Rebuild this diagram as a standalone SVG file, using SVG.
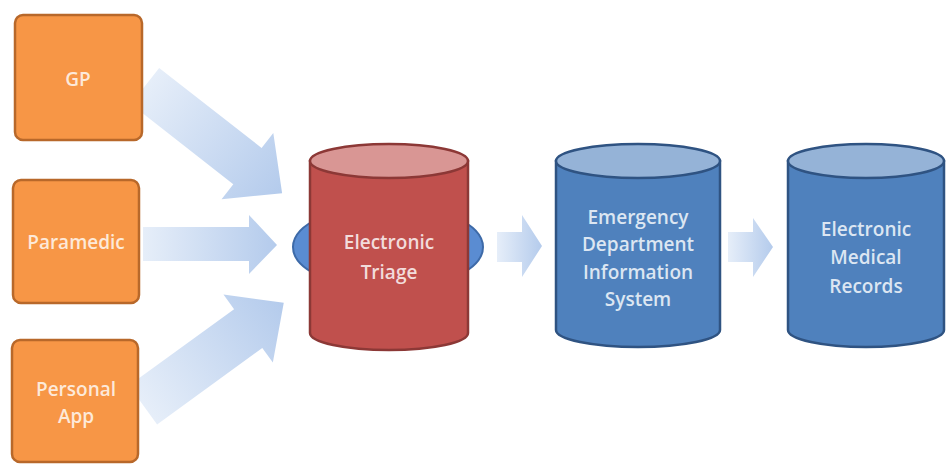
<svg xmlns="http://www.w3.org/2000/svg" width="946" height="464" viewBox="0 0 946 464">
<defs>
<linearGradient id="ga" x1="0" y1="0" x2="1" y2="0">
<stop offset="0" stop-color="#e6eef9"/>
<stop offset="1" stop-color="#b4cbec"/>
</linearGradient>
<style>
.box{fill:#F79646;stroke:#B8682A;stroke-width:2.5}
.lbl{font-family:"Open Sans","Noto Sans",sans-serif;font-size:19px;font-weight:600;text-anchor:middle}
.ot{fill:#FDE9D9}
.rt{fill:#F2DCDB}
.bt{fill:#DCE6F2}
.arr{fill:url(#ga)}
</style>
</defs>
<rect width="946" height="464" fill="#ffffff"/>
<g id="connectors">
<g transform="translate(145,86) rotate(38)"><polygon class="arr" points="0,-23 130,-23 130,-42 174,0 130,42 130,23 0,23"/></g>
<polygon class="arr" points="143,227 249,227 249,215 277,245 249,274 249,261 143,261"/>
<g transform="translate(143,405) rotate(-36)"><polygon class="arr" points="0,-24 130,-24 130,-42 174,0 130,42 130,24 0,24"/></g>
<polygon class="arr" points="497,232 522,232 522,215 542,246 522,277 522,262 497,262"/>
<polygon class="arr" points="728,232 753,232 753,218 773,247 753,277 753,262 728,262"/>
</g>
<g id="gp"><rect class="box" x="15" y="15" width="127" height="125" rx="8"/><text class="lbl ot" x="78" y="86">GP</text></g>
<g id="paramedic"><rect class="box" x="13" y="180" width="126" height="123" rx="8"/><text class="lbl ot" x="76" y="249">Paramedic</text></g>
<g id="personal-app"><rect class="box" x="12" y="340" width="126" height="122" rx="8"/><text class="lbl ot" x="76" y="396">Personal</text><text class="lbl ot" x="76" y="423">App</text></g>
<g id="electronic-triage">
<ellipse cx="388" cy="247" rx="95" ry="42" fill="#5A8CD2" stroke="#3D6AA8" stroke-width="2"/>
<path d="M310,161 L310,333 A79,17 0 0 0 468,333 L468,161 Z" fill="#C0504D" stroke="#8C3836" stroke-width="2.5"/>
<ellipse cx="389" cy="161" rx="79" ry="17" fill="#D99694" stroke="#8C3836" stroke-width="2.5"/>
<text class="lbl rt" x="389" y="249">Electronic</text><text class="lbl rt" x="389" y="279">Triage</text>
</g>
<g id="edis">
<path d="M556,161 L556,330 A82,17 0 0 0 720,330 L720,161 Z" fill="#4F81BD" stroke="#2F5382" stroke-width="2.5"/>
<ellipse cx="638" cy="161" rx="82" ry="17" fill="#95B3D7" stroke="#2F5382" stroke-width="2.5"/>
<text class="lbl bt" x="638" y="224">Emergency</text><text class="lbl bt" x="638" y="251">Department</text><text class="lbl bt" x="638" y="279">Information</text><text class="lbl bt" x="638" y="306">System</text>
</g>
<g id="emr">
<path d="M788,161 L788,330 A78,17 0 0 0 944,330 L944,161 Z" fill="#4F81BD" stroke="#2F5382" stroke-width="2.5"/>
<ellipse cx="866" cy="161" rx="78" ry="17" fill="#95B3D7" stroke="#2F5382" stroke-width="2.5"/>
<text class="lbl bt" x="866" y="236">Electronic</text><text class="lbl bt" x="866" y="264">Medical</text><text class="lbl bt" x="866" y="293">Records</text>
</g>
</svg>
